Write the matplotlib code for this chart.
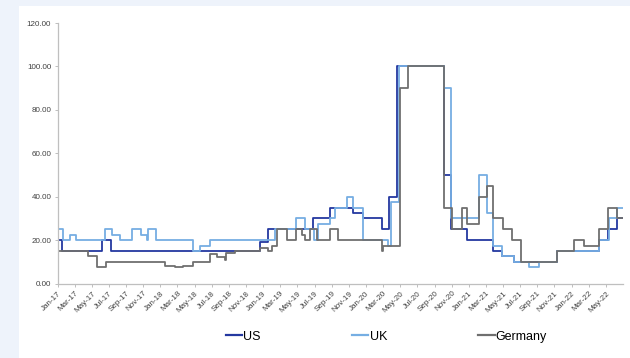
import matplotlib
matplotlib.use("Agg")
import matplotlib.pyplot as plt
from matplotlib.patches import Rectangle
from matplotlib.lines import Line2D

plt.rcParams['font.family'] = ['Liberation Sans', 'DejaVu Sans']

# Months elapsed since Jan-2017 at which each rate changes, and the new rate
us_t = [0, 0.5, 5.2, 6.3, 23.6, 24.6, 29.8, 31.8, 34.5, 35.7, 37.9, 38.7, 39.6,
        45.1, 45.9, 47.8, 50.8, 51.9, 53.3, 58.3, 63.2, 64.3, 65.3]
us_v = [20, 15, 20, 15, 19, 25, 30, 35, 32.5, 30, 25, 40, 100,
        50, 25, 20, 15, 12.5, 10, 15, 20, 25, 30]

uk_t = [0, 0.6, 1.5, 2.2, 5.5, 6.4, 7.3, 8.7, 9.7, 10.5, 10.6, 11.5, 15.8, 16.6,
        17.8, 25.4, 27.8, 28.9, 29.9, 30.4, 31.8, 32.4, 33.8, 34.5, 35.6, 38.6,
        38.9, 39.9, 45.1, 45.9, 49.2, 50.1, 50.8, 51.9, 53.3, 55.0, 56.2, 58.3,
        63.2, 64.4, 65.3]
uk_v = [25, 20, 22.5, 20, 25, 22.5, 20, 25, 22.5, 20, 25, 20, 15, 17.5,
        20, 25, 30, 25, 20, 27.5, 30, 35, 40, 35, 20, 17.5,
        37.5, 100, 90, 30, 50, 32.5, 17.5, 12.5, 10, 7.5, 10, 15,
        20, 30, 35]

de_t = [0, 3.6, 4.6, 5.7, 12.5, 13.7, 14.6, 15.8, 17.8, 18.6, 19.6, 19.7, 20.7,
        23.6, 24.6, 25.0, 25.6, 26.8, 27.8, 28.5, 28.9, 29.5, 30.3, 31.8, 32.7,
        37.9, 38.0, 40.0, 40.9, 45.1, 46.0, 47.2, 47.8, 49.2, 50.1, 50.8, 52.0,
        53.0, 54.1, 58.3, 60.3, 61.4, 63.2, 64.2, 65.3]
de_v = [15, 12.5, 7.5, 10, 8, 7.5, 8, 10, 13.5, 12, 11, 14, 15,
        16.5, 15, 17.5, 25, 20, 25, 22.5, 20, 25, 20, 25, 20,
        15, 17.5, 90, 100, 35, 25, 35, 27.5, 40, 45, 30, 25,
        20, 10, 15, 20, 17.5, 25, 35, 30]

end_month = 66
tick_months = list(range(0, 65, 2))
month_names = ['Jan', 'Mar', 'May', 'Jul', 'Sep', 'Nov']
tick_labels = [f"{month_names[(m % 12) // 2]}-{17 + m // 12}" for m in tick_months]
y_ticks = [0, 20, 40, 60, 80, 100, 120]

series = [
    ('US', us_t, us_v, '#2438A0'),
    ('UK', uk_t, uk_v, '#76AEE3'),
    ('Germany', de_t, de_v, '#6F6F6F'),
]

W, H = 630, 358
fig = plt.figure(figsize=(W / 100, H / 100), dpi=100)
fig.patch.set_facecolor('#EEF3FB')
fig.add_artist(Rectangle((19 / W, 0), 1 - 19 / W, 1 - 6 / H,
                         transform=fig.transFigure, facecolor='white',
                         edgecolor='none', zorder=0))

ax = fig.add_axes([57.5 / W, (H - 283.5) / H, (623 - 57.5) / W, (283.5 - 23) / H])
ax.set_facecolor('none')

handles = []
for name, t, v, color in series:
    xs = list(t) + [end_month]
    ys = list(v) + [v[-1]]
    line, = ax.step(xs, ys, where='post', color=color, lw=1.3, label=name)
    handles.append(Line2D([], [], color=color, lw=1.6))

ax.set_xlim(0, end_month)
ax.set_ylim(0, 120)
ax.set_yticks(y_ticks)
ax.set_yticklabels([f"{y:.2f}" for y in y_ticks])
ax.set_xticks(tick_months)
ax.set_xticklabels(tick_labels, rotation=45, ha='right', va='top',
                   rotation_mode='anchor')

for s in ['top', 'right']:
    ax.spines[s].set_visible(False)
for s in ['left', 'bottom']:
    ax.spines[s].set_color('#BFBFBF')
    ax.spines[s].set_linewidth(0.9)
ax.tick_params(axis='both', colors='#BFBFBF', labelcolor='#404040',
               labelsize=5.8, length=2.5, width=0.7, direction='out', pad=2)

fig.legend(handles, [s[0] for s in series], loc='center',
           bbox_to_anchor=(386.5 / W, 1 - 336.7 / H), ncol=3, frameon=False,
           fontsize=9, handlelength=1.3, handletextpad=0.1, columnspacing=7.3)

fig.savefig('out.png', dpi=100, facecolor=fig.get_facecolor())
